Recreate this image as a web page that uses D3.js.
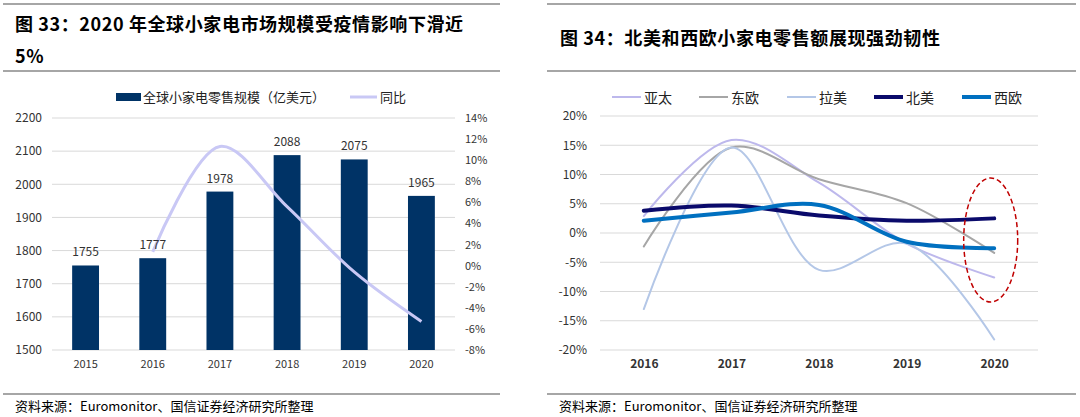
<!DOCTYPE html>
<html lang="zh">
<head>
  <meta charset="UTF-8">
  <title>小家电</title>
  <script src="https://cdn.jsdelivr.net/npm/d3@7"></script>
  <style>
    body { margin: 0; background: #fff; }
    text { font-family: "Noto Sans CJK SC", "Liberation Sans", sans-serif; }
  </style>
</head>
<body>
<svg></svg>
<script>
  const width = 1080, height = 417

  // 图33 数据
  const years1 = ['2015', '2016', '2017', '2018', '2019', '2020']
  const sales = [1755, 1777, 1978, 2088, 2075, 1965]
  const yoy = [null, 1.3, 11.3, 5.6, -0.6, -5.3]
  const leftTicks = [1500, 1600, 1700, 1800, 1900, 2000, 2100, 2200]
  const rightTicks = [-8, -6, -4, -2, 0, 2, 4, 6, 8, 10, 12, 14]

  // 图34 数据
  const years2 = ['2016', '2017', '2018', '2019', '2020']
  const regions = ['亚太', '东欧', '拉美', '北美', '西欧']
  const apac = [2.9, 15.9, 8.6, -1.8, -7.6]
  const eastEu = [-2.3, 14.6, 9.2, 5.1, -3.4]
  const latam = [-13.0, 14.6, -6.3, -1.8, -18.2]
  const northAm = [3.8, 4.7, 3.0, 2.1, 2.5]
  const westEu = [2.1, 3.5, 4.8, -1.5, -2.6]
  const pctTicks = [-20, -15, -10, -5, 0, 5, 10, 15, 20]

  const svg = d3.select('svg')
      .attr('width', width).attr('height', height)
      .attr('viewBox', [0, 0, width, height])

  // 标题和分隔线
  const rule = (x1, x2, y) => svg.append('line')
      .attr('x1', x1).attr('x2', x2).attr('y1', y).attr('y2', y)
      .attr('stroke', '#a6a6a6').attr('stroke-width', 2)
  rule(3, 500, 4); rule(3, 500, 71); rule(3, 500, 394)
  rule(547, 1076, 4); rule(547, 1076, 71); rule(547, 1076, 394)

  const title = (x, y, s) => svg.append('text')
      .attr('x', x).attr('y', y)
      .attr('font-size', 18).attr('font-weight', 'bold').attr('fill', '#000')
      .attr('letter-spacing', 0.6)
      .text(s)
  title(15, 31, '图 33：2020 年全球小家电市场规模受疫情影响下滑近')
  title(15, 63, '5%')
  title(560, 45, '图 34：北美和西欧小家电零售额展现强劲韧性')

  const source = x => svg.append('text')
      .attr('x', x).attr('y', 411)
      .attr('font-size', 13).attr('fill', '#000')
      .text('资料来源：Euromonitor、国信证券经济研究所整理')
  source(15); source(559)

  const numFont = g => g.selectAll('text').attr('fill', '#333')
      .attr('font-family', '"Liberation Sans", sans-serif')

  // ---------- 图33 ----------
  const x1 = d3.scaleBand().domain(years1).range([52, 455]).paddingInner(0.6).paddingOuter(0.3)
  const yL = d3.scaleLinear().domain([1500, 2200]).range([350, 118])
  const yR = d3.scaleLinear().domain([-8, 14]).range([350, 118])

  const g1 = svg.append('g')
  g1.append('g')
      .selectAll('line').data(leftTicks).join('line')
      .attr('x1', 52).attr('x2', 455)
      .attr('y1', d => yL(d)).attr('y2', d => yL(d))
      .attr('stroke', '#d9d9d9').attr('stroke-width', 1)

  g1.append('g')
      .attr('transform', 'translate(42,0)')
      .call(d3.axisLeft(yL).tickValues(leftTicks).tickSize(0).tickPadding(0)
          .tickFormat(d3.format('d')))
      .call(g => g.select('.domain').remove())
      .call(numFont)
      .call(g => g.selectAll('text').attr('font-size', 12))

  g1.append('g')
      .attr('transform', 'translate(465,0)')
      .call(d3.axisRight(yR).tickValues(rightTicks).tickSize(0).tickPadding(0)
          .tickFormat(d => d + '%'))
      .call(g => g.select('.domain').remove())
      .call(numFont)
      .call(g => g.selectAll('text').attr('font-size', 11))

  g1.append('g')
      .attr('transform', 'translate(0,350)')
      .call(d3.axisBottom(x1).tickSize(0).tickPadding(10))
      .call(g => g.select('.domain').remove())
      .call(numFont)
      .call(g => g.selectAll('text').attr('font-size', 11))

  g1.append('g')
      .selectAll('rect').data(sales).join('rect')
      .attr('x', (d, i) => x1(years1[i]))
      .attr('width', x1.bandwidth())
      .attr('y', d => yL(d))
      .attr('height', d => yL(1500) - yL(d))
      .attr('fill', '#003366')

  const yoyPts = yoy.map((v, i) => [years1[i], v]).filter(d => d[1] !== null)
  g1.append('path')
      .attr('d', d3.line()
          .curve(d3.curveCatmullRom.alpha(0.5))
          .x(d => x1(d[0]) + x1.bandwidth() / 2)
          .y(d => yR(d[1]))(yoyPts))
      .attr('fill', 'none')
      .attr('stroke', '#c9c8f5')
      .attr('stroke-width', 3)

  g1.append('g')
      .selectAll('text').data(sales).join('text')
      .attr('x', (d, i) => x1(years1[i]) + x1.bandwidth() / 2)
      .attr('y', d => yL(d) - 9)
      .attr('text-anchor', 'middle')
      .attr('font-size', 12).attr('fill', '#333')
      .attr('font-family', '"Liberation Sans", sans-serif')
      .text(d => d)

  // 图33 图例
  const lg1 = svg.append('g').attr('font-size', 13)
  lg1.append('rect').attr('x', 116).attr('y', 93).attr('width', 25).attr('height', 8).attr('fill', '#003366')
  lg1.append('text').attr('x', 143).attr('y', 102).attr('fill', '#222').text('全球小家电零售规模（亿美元）')
  lg1.append('line').attr('x1', 350).attr('x2', 377).attr('y1', 97).attr('y2', 97)
      .attr('stroke', '#c9c8f5').attr('stroke-width', 3)
  lg1.append('text').attr('x', 380).attr('y', 102).attr('fill', '#222').text('同比')

  // ---------- 图34 ----------
  const x2 = d3.scalePoint().domain(years2).range([600, 1038]).padding(0.5)
  const y2 = d3.scaleLinear().domain([-20, 20]).range([350, 116])

  const g2 = svg.append('g')
  g2.append('g')
      .selectAll('line').data(pctTicks).join('line')
      .attr('x1', 600).attr('x2', 1038)
      .attr('y1', d => y2(d)).attr('y2', d => y2(d))
      .attr('stroke', '#d9d9d9').attr('stroke-width', 1)

  g2.append('g')
      .attr('transform', 'translate(587,0)')
      .call(d3.axisLeft(y2).tickValues(pctTicks).tickSize(0).tickPadding(0)
          .tickFormat(d => d + '%'))
      .call(g => g.select('.domain').remove())
      .call(numFont)
      .call(g => g.selectAll('text').attr('font-size', 12))

  g2.append('g')
      .attr('transform', 'translate(0,350)')
      .call(d3.axisBottom(x2).tickSize(0).tickPadding(9))
      .call(g => g.select('.domain').remove())
      .call(numFont)
      .call(g => g.selectAll('text').attr('font-size', 12).attr('font-weight', 'bold'))

  const series = [
    {name: '亚太', values: apac, color: '#bdb8ec', w: 2},
    {name: '东欧', values: eastEu, color: '#a6a6a6', w: 2},
    {name: '拉美', values: latam, color: '#b4c7e7', w: 2},
    {name: '北美', values: northAm, color: '#0a0a6b', w: 4},
    {name: '西欧', values: westEu, color: '#0070c0', w: 4}
  ]

  const line2 = d3.line()
      .curve(d3.curveCatmullRom.alpha(0.5))
      .x((d, i) => x2(years2[i]))
      .y(d => y2(d))

  g2.append('g')
      .selectAll('path').data(series).join('path')
      .attr('d', d => line2(d.values))
      .attr('fill', 'none')
      .attr('stroke', d => d.color)
      .attr('stroke-width', d => d.w)
      .attr('stroke-linecap', 'round')

  // 红色虚线椭圆
  g2.append('ellipse')
      .attr('cx', x2('2020') - 3.5).attr('cy', y2(-1.2))
      .attr('rx', 27).attr('ry', 62)
      .attr('fill', 'none')
      .attr('stroke', '#c00000').attr('stroke-width', 1.5)
      .attr('stroke-dasharray', '5,3')

  // 图34 图例
  const legendX = [612, 699, 787, 874, 962]
  const lg2 = svg.append('g').selectAll('g').data(series).join('g')
      .attr('transform', (d, i) => `translate(${legendX[i]},97)`)
  lg2.append('line').attr('x1', 0).attr('x2', 29).attr('y1', 0).attr('y2', 0)
      .attr('stroke', d => d.color).attr('stroke-width', d => d.w)
  lg2.append('text').attr('x', 32).attr('y', 6).attr('font-size', 14).attr('fill', '#222')
      .text(d => d.name)
</script>
</body>
</html>
